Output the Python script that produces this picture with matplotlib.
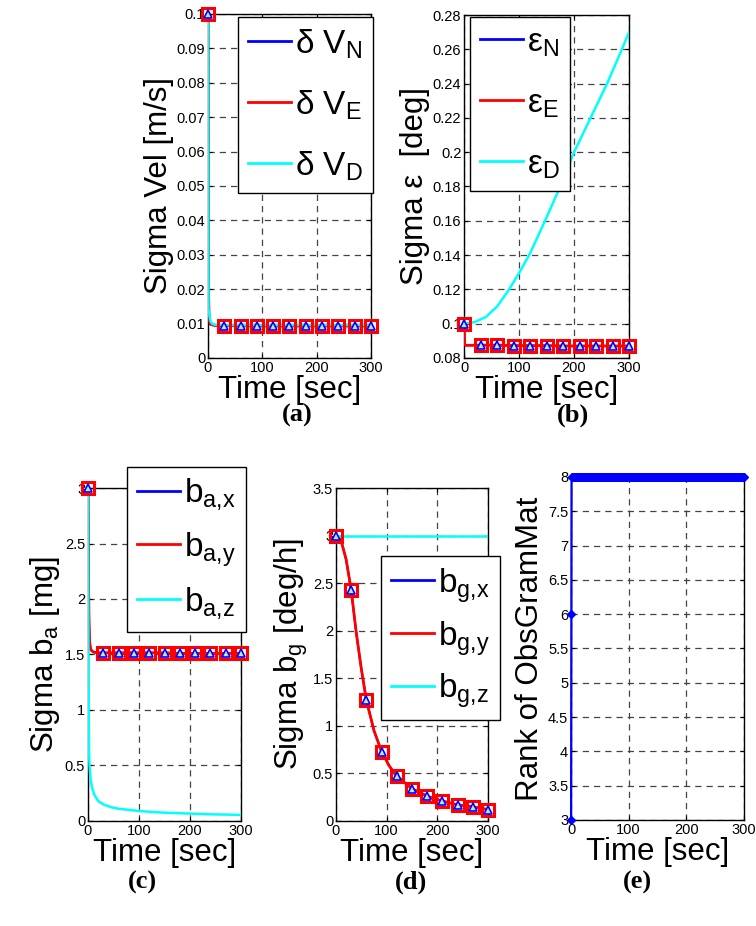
import numpy as np
import matplotlib
matplotlib.use("Agg")
import matplotlib.pyplot as plt
from matplotlib.lines import Line2D

plt.rcParams["font.family"] = ["Liberation Sans", "DejaVu Sans"]
plt.rcParams["mathtext.fontset"] = "custom"
plt.rcParams["mathtext.rm"] = "Liberation Sans"

# ---------------- data ----------------
# (a) sigma velocity [m/s]
vel_t = [0, 1, 2, 3, 5, 8, 12, 20, 30, 60, 90, 120, 150, 180, 210, 240, 270, 300]
vel_n = [0.1, 0.02, 0.012, 0.0105, 0.0098, 0.0096, 0.0095, 0.0094, 0.0094, 0.0094, 0.0093, 0.0093, 0.0093, 0.0093, 0.0093, 0.0093, 0.0093, 0.0093]
vel_e = [0.1, 0.02, 0.012, 0.0105, 0.0098, 0.0096, 0.0095, 0.0094, 0.0094, 0.0094, 0.0093, 0.0093, 0.0093, 0.0093, 0.0093, 0.0093, 0.0093, 0.0093]
vel_d = [0.1, 0.014, 0.0135, 0.012, 0.0105, 0.0099, 0.0097, 0.0096, 0.0096, 0.0096, 0.0096, 0.0096, 0.0096, 0.0096, 0.0096, 0.0096, 0.0096, 0.0096]

# (b) sigma attitude [deg]
att_t = [0, 1, 2, 5, 10, 30, 60, 90, 120, 150, 180, 210, 240, 270, 300]
att_n = [0.1, 0.088, 0.0875, 0.0874, 0.0874, 0.0875, 0.0875, 0.0872, 0.0872, 0.0872, 0.087, 0.087, 0.087, 0.087, 0.087]
att_e = [0.1, 0.088, 0.0875, 0.0874, 0.0874, 0.0875, 0.0875, 0.0872, 0.0872, 0.0872, 0.087, 0.087, 0.087, 0.087, 0.087]
att_d_t = [0, 20, 40, 60, 80, 100, 120, 150, 175, 200, 230, 260, 287, 300]
att_d = [0.1, 0.101, 0.104, 0.11, 0.119, 0.1295, 0.141, 0.162, 0.18, 0.2, 0.22, 0.24, 0.26, 0.27]

# (c) sigma accel bias [mg]
ba_t = [0, 1, 2, 3, 5, 8, 12, 20, 30, 45, 60, 80, 100, 130, 150, 180, 210, 240, 270, 300]
ba_x = [3.0, 2.2, 1.8, 1.62, 1.55, 1.53, 1.52, 1.515, 1.515, 1.515, 1.515, 1.515, 1.515, 1.515, 1.515, 1.51, 1.51, 1.51, 1.51, 1.51]
ba_y = [3.0, 2.2, 1.8, 1.62, 1.55, 1.53, 1.52, 1.515, 1.515, 1.515, 1.515, 1.515, 1.515, 1.515, 1.515, 1.51, 1.51, 1.51, 1.51, 1.51]
ba_z = [3.0, 1.3, 0.63, 0.5, 0.38, 0.3, 0.24, 0.18, 0.15, 0.125, 0.11, 0.1, 0.09, 0.08, 0.075, 0.07, 0.065, 0.06, 0.058, 0.055]

# (d) sigma gyro bias [deg/h]
bg_t = [0, 10, 20, 30, 40, 50, 60, 75, 90, 105, 120, 150, 180, 210, 240, 270, 300]
bg_x = [3.0, 2.95, 2.75, 2.43, 1.98, 1.6, 1.27, 0.95, 0.73, 0.58, 0.47, 0.34, 0.26, 0.21, 0.17, 0.15, 0.12]
bg_y = [3.0, 2.95, 2.75, 2.43, 1.98, 1.6, 1.27, 0.95, 0.73, 0.58, 0.47, 0.34, 0.26, 0.21, 0.17, 0.15, 0.12]
bg_z = [3.0, 3.0, 3.0, 3.0, 3.0, 3.0, 3.0, 3.0, 3.0, 3.0, 3.0, 3.0, 3.0, 3.0, 3.0, 3.0, 3.0]

# (e) rank of observability gramian
rank_t = [0, 0.5] + list(range(1, 301))
rank_v = [3, 6] + [8] * 300

mark_t = [0, 30, 60, 90, 120, 150, 180, 210, 240, 270, 300]

GRID = dict(color="#444444", linestyle=(0, (5, 4)), linewidth=0.9)
TICK_FS = 10.5
LAB_FS = 22.5
LEG_FS = 24


def style_axes(ax, xlim, ylim, yticks):
    ax.set_xlim(*xlim)
    ax.set_ylim(*ylim)
    ax.set_xticks([0, 100, 200, 300])
    ax.set_yticks(yticks)
    ax.set_yticklabels([("%g" % v) for v in yticks])
    ax.tick_params(direction="in", length=3, labelsize=TICK_FS, top=True, right=True, pad=2)
    ax.grid(True, **GRID)
    for s in ax.spines.values():
        s.set_linewidth(1.0)
    ax.set_xlabel("Time [sec]", fontsize=LAB_FS, labelpad=0)


def plot_xy(ax, t, a, b, c, ct=None):
    ax.plot(t, a, color="blue", lw=1.5, zorder=3)
    ax.plot(t, b, color="red", lw=2.0, zorder=3)
    ax.plot(ct if ct is not None else t, c, color="cyan", lw=1.8, zorder=3)
    ma = np.interp(mark_t, t, a)
    mb = np.interp(mark_t, t, b)
    ax.plot(mark_t, mb, ls="none", marker="s", ms=9, mfc="none", mec="red", mew=2.2, zorder=4, clip_on=False)
    ax.plot(mark_t, ma, ls="none", marker="^", ms=6, mfc="#bfe8ff", mec="blue", mew=1.2, zorder=5, clip_on=False)


def add_legend(ax, labels, anchor, spacing):
    handles = [Line2D([], [], color=c, lw=2) for c in ["blue", "red", "cyan"]]
    leg = ax.legend(handles, labels, loc="upper left", bbox_to_anchor=anchor, fontsize=LEG_FS,
                    fancybox=False, edgecolor="black", framealpha=1, handlelength=1.3,
                    handletextpad=0.1, borderpad=0.3, labelspacing=spacing, borderaxespad=0)
    leg.get_frame().set_linewidth(1.0)
    leg.set_zorder(10)


def sub(base, s):
    return base + "$_\\mathregular{" + s.replace(",", "{,}") + "}$"


fig = plt.figure(figsize=(7.56, 9.26), dpi=100)

# (a)
ax = fig.add_axes([0.2751, 0.6134, 0.2156, 0.3715])
plot_xy(ax, vel_t, vel_n, vel_e, vel_d)
style_axes(ax, (0, 300), (0, 0.1), [0, 0.01, 0.02, 0.03, 0.04, 0.05, 0.06, 0.07, 0.08, 0.09, 0.1])
ax.set_ylabel("Sigma Vel [m/s]", fontsize=LAB_FS, labelpad=2)
add_legend(ax, [sub("δ V", "N"), sub("δ V", "E"), sub("δ V", "D")], (0.184, 0.991), 0.82)

# (b)
ax = fig.add_axes([0.6138, 0.6134, 0.2183, 0.3704])
plot_xy(ax, att_t, att_n, att_e, att_d, ct=att_d_t)
style_axes(ax, (0, 300), (0.08, 0.28), [0.08, 0.1, 0.12, 0.14, 0.16, 0.18, 0.2, 0.22, 0.24, 0.26, 0.28])
ax.set_ylabel("Sigma ε  [deg]", fontsize=LAB_FS, labelpad=2)
add_legend(ax, [sub("ε", "N"), sub("ε", "E"), sub("ε", "D")], (0.036, 0.994), 0.88)

# (c)
ax = fig.add_axes([0.1164, 0.1134, 0.2024, 0.3596])
plot_xy(ax, ba_t, ba_x, ba_y, ba_z)
style_axes(ax, (0, 300), (0, 3), [0, 0.5, 1, 1.5, 2, 2.5, 3])
ax.set_ylabel(sub("Sigma b", "a") + " [mg]", fontsize=LAB_FS, labelpad=2)
add_legend(ax, [sub("b", "a,x"), sub("b", "a,y"), sub("b", "a,z")], (0.255, 1.063), 0.5)

# (d)
ax = fig.add_axes([0.4444, 0.1134, 0.2011, 0.3596])
plot_xy(ax, bg_t, bg_x, bg_y, bg_z)
style_axes(ax, (0, 300), (0, 3.5), [0, 0.5, 1, 1.5, 2, 2.5, 3, 3.5])
ax.set_ylabel(sub("Sigma b", "g") + " [deg/h]", fontsize=LAB_FS, labelpad=2)
add_legend(ax, [sub("b", "g,x"), sub("b", "g,y"), sub("b", "g,z")], (0.296, 0.796), 0.42)

# (e)
ax = fig.add_axes([0.7553, 0.1145, 0.2288, 0.3704])
ax.plot(rank_t, rank_v, color="blue", lw=1.5, marker="D", ms=4.5, mfc="blue", mec="blue", zorder=4, clip_on=False)
style_axes(ax, (0, 300), (3, 8), [3, 3.5, 4, 4.5, 5, 5.5, 6, 6.5, 7, 7.5, 8])
ax.set_ylabel("Rank of ObsGramMat", fontsize=LAB_FS, labelpad=2)

# panel letters
for x, y, s in [(0.393, 0.551, "a"), (0.758, 0.551, "b"), (0.188, 0.047, "c"), (0.544, 0.047, "d"), (0.843, 0.047, "e")]:
    fig.text(x, y, "(" + s + ")", fontsize=19, fontweight="bold", family="Liberation Serif",
             ha="center", va="center")

fig.savefig("out.png", dpi=100)
